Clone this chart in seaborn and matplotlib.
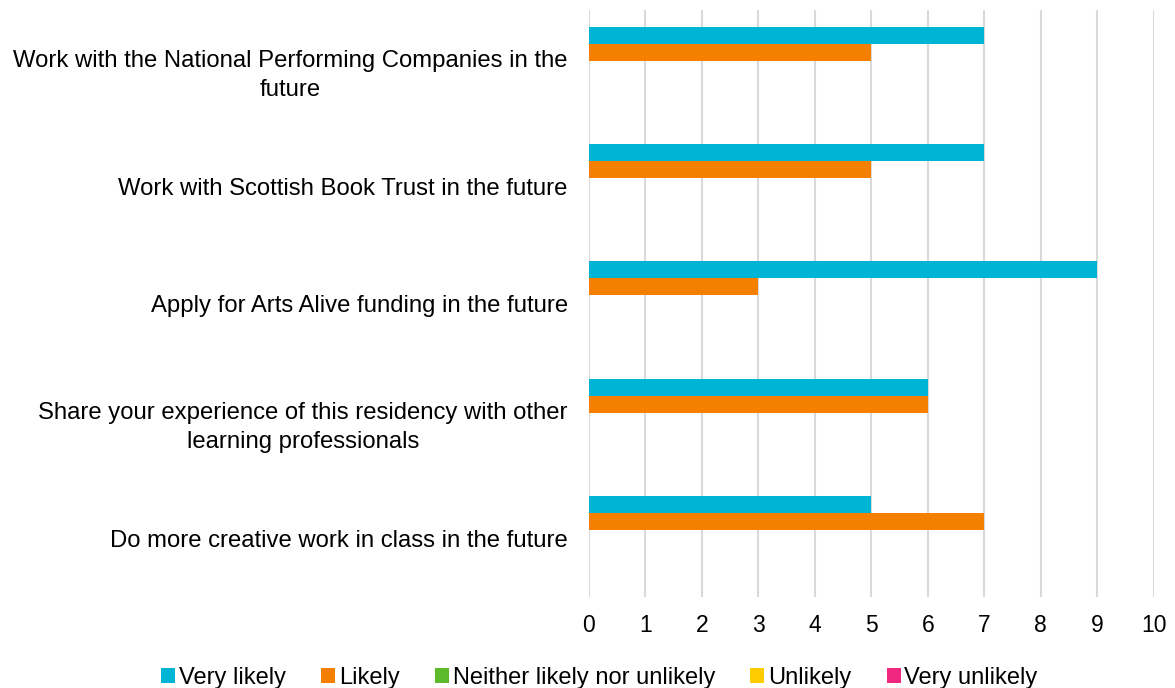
import matplotlib
matplotlib.use("Agg")
import matplotlib.pyplot as plt
import seaborn as sns
import pandas as pd
from matplotlib.patches import Patch

categories = [
    "Work with the National Performing Companies in the\nfuture",
    "Work with Scottish Book Trust in the future",
    "Apply for Arts Alive funding in the future",
    "Share your experience of this residency with other\nlearning professionals",
    "Do more creative work in class in the future",
]
series = ["Very likely", "Likely", "Neither likely nor unlikely", "Unlikely", "Very unlikely"]
very_likely = [7, 7, 9, 6, 5]
likely = [5, 5, 3, 6, 7]
neither = [0, 0, 0, 0, 0]
unlikely = [0, 0, 0, 0, 0]
very_unlikely = [0, 0, 0, 0, 0]
colors = ["#00B4D6", "#F58000", "#5DBB2B", "#FFCC00", "#F0287F"]

values = [very_likely, likely, neither, unlikely, very_unlikely]
rows = []
for s, vals in zip(series, values):
    for c, v in zip(categories, vals):
        rows.append({"category": c, "series": s, "value": v})
df = pd.DataFrame(rows)

sns.set_theme(style="white")
plt.rcParams["font.family"] = ["Liberation Sans", "DejaVu Sans"]
plt.rcParams["text.color"] = "black"

fig = plt.figure(figsize=(11.75, 6.88), dpi=100)
ax = fig.add_axes([0.501, 0.132, 0.481, 0.853])

sns.barplot(data=df, y="category", x="value", hue="series", order=categories,
            hue_order=series, palette=colors, orient="h", width=0.72,
            ax=ax, legend=False, saturation=1, linewidth=0)

ax.set_xlim(0, 10)
ax.set_xticks(range(0, 11))
ax.set_ylim(len(categories) - 0.5, -0.5)
ax.xaxis.grid(True, color="#D9D9D9", linewidth=1.5)
ax.set_axisbelow(True)
for sp in ax.spines.values():
    sp.set_visible(False)
ax.set_xlabel("")
ax.set_ylabel("")
ax.tick_params(axis="x", labelsize=16.5, colors="black", length=0, pad=12)
ax.tick_params(axis="y", labelsize=17.2, colors="black", length=0, pad=15)
for lab in ax.get_yticklabels():
    lab.set_multialignment("center")
    lab.set_linespacing(1.45)

handles = [Patch(facecolor=c, edgecolor="none") for c in colors]
fig.legend(handles, series, loc="lower center", bbox_to_anchor=(0.51, -0.032),
           ncol=5, frameon=False, fontsize=17, handlelength=0.6, handleheight=0.6,
           handletextpad=0.15, columnspacing=1.5, labelcolor="black")

fig.savefig("out.png", dpi=100)
